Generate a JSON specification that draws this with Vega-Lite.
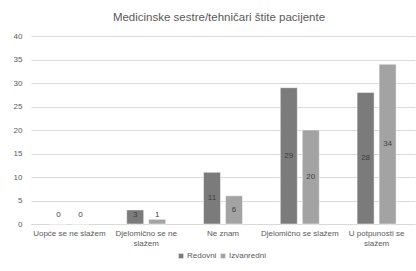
{
  "$schema": "https://vega.github.io/schema/vega-lite/v6.json",
  "autosize": "none",
  "width": 384,
  "height": 188,
  "padding": {"left": 31, "top": 36, "right": 1, "bottom": 47},
  "background": "white",
  "config": {
    "font": "Liberation Sans",
    "view": {"stroke": null},
    "axis": {"labelColor": "#595959", "labelFontSize": 8, "ticks": false, "title": null}
  },
  "title": {"text": "Medicinske sestre/tehničari štite pacijente", "fontSize": 11.5, "fontWeight": "normal", "color": "#595959", "offset": 9, "dx": -4},
  "data": {"values": [
    {"cat": "Uopće se ne slažem", "grupa": "Redovni", "value": 0},
    {"cat": "Uopće se ne slažem", "grupa": "Izvanredni", "value": 0},
    {"cat": "Djelomično se ne slažem", "grupa": "Redovni", "value": 3},
    {"cat": "Djelomično se ne slažem", "grupa": "Izvanredni", "value": 1},
    {"cat": "Ne znam", "grupa": "Redovni", "value": 11},
    {"cat": "Ne znam", "grupa": "Izvanredni", "value": 6},
    {"cat": "Djelomično se slažem", "grupa": "Redovni", "value": 29},
    {"cat": "Djelomično se slažem", "grupa": "Izvanredni", "value": 20},
    {"cat": "U potpunosti se slažem", "grupa": "Redovni", "value": 28},
    {"cat": "U potpunosti se slažem", "grupa": "Izvanredni", "value": 34}
  ]},
  "transform": [{"calculate": "max(datum.value / 2, 2)", "as": "labelPos"}],
  "encoding": {
    "x": {"field": "cat", "type": "nominal", "sort": null,
      "scale": {"paddingInner": 0.492, "paddingOuter": 0.246},
      "axis": {"labelAngle": 0, "labelPadding": 5, "domainColor": "#d9d9d9", "labelLimit": 100,
        "labelExpr": "datum.label == 'Djelomično se ne slažem' ? ['Djelomično se ne', 'slažem'] : datum.label == 'U potpunosti se slažem' ? ['U potpunosti se', 'slažem'] : datum.label"}},
    "xOffset": {"field": "grupa", "type": "nominal", "sort": ["Redovni", "Izvanredni"], "scale": {"paddingInner": 0.227}}
  },
  "layer": [
    {
      "mark": {"type": "bar", "stroke": "white", "strokeWidth": 0.5},
      "encoding": {
        "y": {"field": "value", "type": "quantitative", "scale": {"domain": [0, 40]},
          "axis": {"values": [0, 5, 10, 15, 20, 25, 30, 35, 40], "domain": false, "gridColor": "#d9d9d9", "labelPadding": 9}},
        "color": {"field": "grupa", "type": "nominal", "sort": ["Redovni", "Izvanredni"],
          "scale": {"domain": ["Redovni", "Izvanredni"], "range": ["#7b7b7b", "#a3a3a3"]},
          "legend": {"title": null, "orient": "none", "direction": "horizontal", "legendX": 146, "legendY": 216,
            "symbolType": "square", "symbolSize": 22, "labelFontSize": 8, "labelColor": "#595959", "columnPadding": 2, "labelOffset": 2, "symbolStrokeWidth": 0}}
      }
    },
    {
      "mark": {"type": "text", "fontSize": 8, "color": "#404040"},
      "encoding": {
        "y": {"field": "labelPos", "type": "quantitative",
          "axis": {"values": [0, 5, 10, 15, 20, 25, 30, 35, 40], "domain": false, "gridColor": "#d9d9d9", "labelPadding": 9}},
        "text": {"field": "value", "type": "quantitative"}
      }
    }
  ]
}
